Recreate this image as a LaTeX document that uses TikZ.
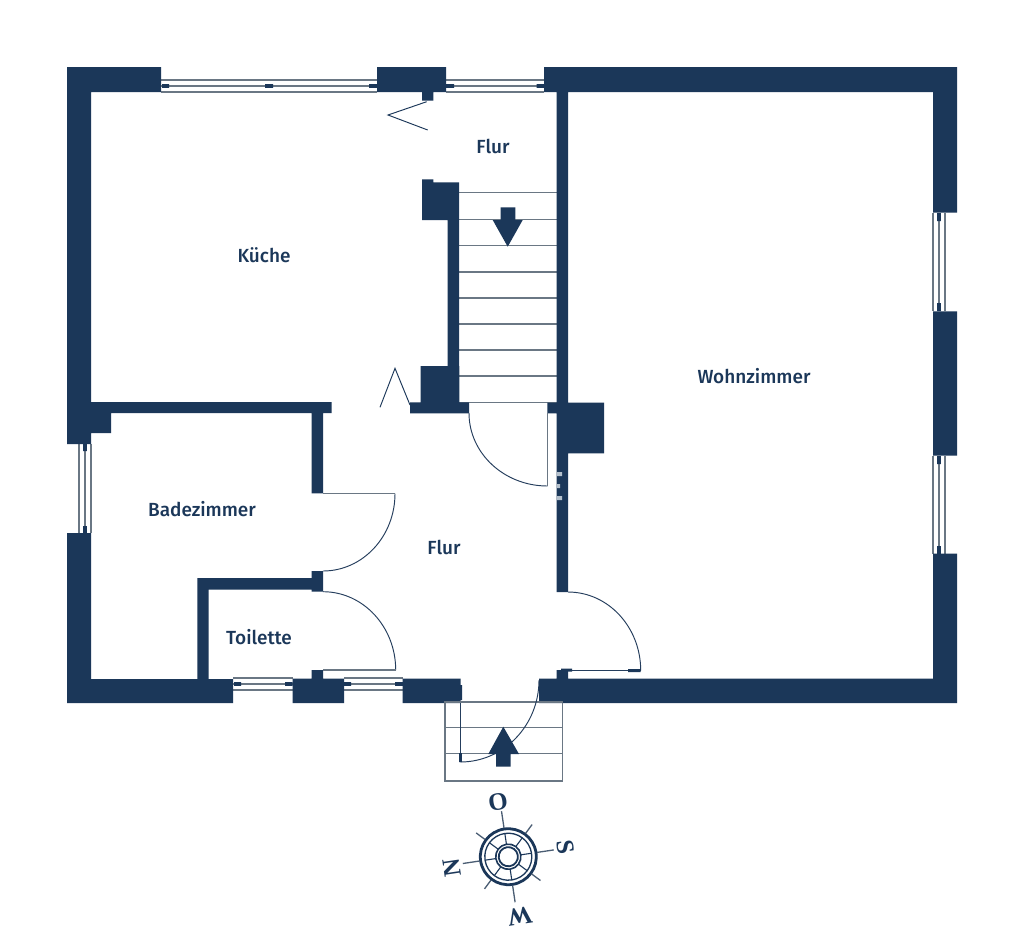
\documentclass[tikz,border=0pt]{standalone}
\usepackage{fontspec}
\setmainfont{Fira Sans}
\newfontfamily\labelfont{Fira Sans Medium}
\newfontfamily\compassfont{Liberation Serif}[BoldFont={Liberation Serif Bold}]
\definecolor{navy}{HTML}{1B3759}
\definecolor{linegray}{HTML}{6A7784}
\definecolor{ghost}{HTML}{B4C0CC}
\tikzset{
  wall/.style={fill=navy,draw=none},
  pane/.style={draw=linegray,line width=1.25pt},
  tick/.style={fill=navy,draw=none},
  swing/.style={draw=navy!90!gray,line width=0.95pt},
  leaf/.style={draw=linegray,line width=1.1pt},
  tread/.style={draw=linegray,line width=1.1pt},
  room/.style={font=\labelfont\fontsize{19}{22}\selectfont,text=navy,inner sep=0pt,anchor=center},
  compass letter/.style={font=\compassfont\bfseries\fontsize{25}{27}\selectfont,text=navy,inner sep=0pt,anchor=center}
}
\begin{document}
\begin{tikzpicture}[x=1pt,y=-1pt]
\useasboundingbox (0,0) rectangle (1024,940);
\fill[white] (0,0) rectangle (1024,940);
% treads and windows first, walls above
\foreach \ya in {192.3,219.7,245.7,272,298,324,350,376,402.5}
  \draw[tread] (459,\ya) -- (557,\ya);
% windows
\foreach \ya in {80,86,92}{
  \draw[pane] (161,\ya) -- (377,\ya);
  \draw[pane] (446,\ya) -- (544,\ya);
}
\foreach \ya in {678,684,690}{
  \draw[pane] (233,\ya) -- (292.5,\ya);
  \draw[pane] (344,\ya) -- (403,\ya);
}
\foreach \xa in {79,85,91}
  \draw[pane] (\xa,444) -- (\xa,533);
\foreach \xa in {933,939,945}{
  \draw[pane] (\xa,213) -- (\xa,311);
  \draw[pane] (\xa,456) -- (\xa,554);
}
% window ticks
\fill[tick] (162,84.2) rectangle (169,87.8) (265,84.2) rectangle (273,87.8) (369,84.2) rectangle (377,87.8)
  (446,84.2) rectangle (454,87.8) (536.5,84.2) rectangle (544,87.8)
  (234,682.2) rectangle (241,685.8) (285,682.2) rectangle (292.5,685.8)
  (344,682.2) rectangle (351,685.8) (395,682.2) rectangle (403,685.8)
  (83.2,444) rectangle (86.8,451) (83.2,526) rectangle (86.8,533)
  (937.2,213) rectangle (940.8,221) (937.2,303) rectangle (940.8,311)
  (937.2,456) rectangle (940.8,464) (937.2,546) rectangle (940.8,554);
% walls
\fill[wall]
  (67,67) rectangle (161,92)
  (67,67) rectangle (91,444)
  (91,402) rectangle (111,433)
  (91,402) rectangle (331.5,413.2)
  (311.7,402) rectangle (323,493.3)
  (67,533) rectangle (91,703)
  (67,679) rectangle (233,703)
  (197.3,578) rectangle (208.7,703)
  (197.3,578) rectangle (323,589.5)
  (311.7,571) rectangle (323,591.7)
  (311.7,670) rectangle (323,703)
  (292.5,678.5) rectangle (344,703)
  (402.7,678.5) rectangle (460.7,703)
  (539,678.5) rectangle (957,703)
  (556.7,670) rectangle (568,703)
  (377,67) rectangle (446,92)
  (422,67) rectangle (433.3,100.7)
  (544,67) rectangle (957,92)
  (556.7,67) rectangle (568,592)
  (933,67) rectangle (957,212.7)
  (933,311.3) rectangle (957,455.7)
  (933,553.7) rectangle (957,703)
  (422,179.3) rectangle (433.3,190)
  (422,182.3) rectangle (459,220)
  (447.7,182.3) rectangle (459,403)
  (420.7,366) rectangle (459.3,403)
  (410,402.3) rectangle (469,413.3)
  (547.3,402.5) rectangle (568,413.3)
  (556.7,402.7) rectangle (604,453.3);
% residual marks in wall
\fill[ghost] (557,472) rectangle (562,476) (557,484) rectangle (560,488) (557,496) rectangle (562,500);
% fold doors
\draw[swing,draw=navy] (426.7,101.7) -- (388,115) -- (427.7,130);
\draw[swing,draw=navy] (380,407.3) -- (395,368.3) -- (410,405);
% swing doors
\draw[swing] (395,493.5) .. controls (395,536.3) and (362.8,571) .. (323,571);
\draw[leaf] (323,493.5) -- (395,493.5);
\draw[swing] (395.7,670) .. controls (395.7,626.8) and (363.2,591.7) .. (323,591.7);
\draw[leaf] (323,670) -- (395.7,670);
\draw[swing] (640.7,670.5) .. controls (640.7,627.1) and (608.2,592) .. (568,592);
\draw[swing] (568,670.5) -- (640.7,670.5);
\fill[tick] (628,669) rectangle (640.5,672) (561,668.5) rectangle (572,671.5);
\draw[swing] (547.5,486) .. controls (504.1,486) and (469,453.3) .. (469,413);
\draw[leaf] (547.5,413) -- (547.5,486);
% entry stairs
\draw[tread] (445,702) rectangle (562.3,781);
\draw[tread] (445,727.7) -- (562.3,727.7);
\draw[tread] (445,753.7) -- (562.3,753.7);
% entry door
\draw[swing] (460.3,762) .. controls (503.8,762) and (539,725.3) .. (539,680);
\draw[swing] (460.3,703) -- (460.3,762);
\fill[tick] (459,753) rectangle (461.8,762) (459.5,685) rectangle (462,700);
% stair arrows
\fill[navy] (500.7,207.3) -- (515.3,207.3) -- (515.3,220) -- (522.7,220) -- (507.7,246.7) -- (492.7,220) -- (500.7,220) -- cycle;
\fill[navy] (503.3,726.7) -- (519,754) -- (510.7,754) -- (510.7,766.7) -- (496,766.7) -- (496,754) -- (488.3,754) -- cycle;
% labels
\node[room] (kueche) at (264,255.5) {Küche};
\node[room] (flurtop) at (493,146.5) {Flur};
\node[room] (wohn) at (754,376.5) {Wohnzimmer};
\node[room] (bad) at (202,509.5) {Badezimmer};
\node[room] (flurmid) at (444,547.5) {Flur};
\node[room] (toilette) at (259,637) {Toilette};
% compass
\begin{scope}[shift={(508.3,856.7)},x=1pt,y=1pt,rotate=8.5]
  \draw[navy,line width=2.8pt] (0,0) circle (28);
  \draw[navy,line width=1.3pt] (0,0) circle (23.5);
  \draw[navy,line width=1.6pt] (0,0) circle (12.6);
  \draw[navy,line width=1.8pt] (0,0) circle (9.6);
  \foreach \a in {0,45,...,315}
    \draw[navy,line width=1.1pt] (\a:12.6) -- (\a:23.5);
  \foreach \a in {0,90,180,270}
    \draw[linegray!60!navy,line width=1.3pt] (\a:29) -- (\a:46);
  \foreach \a in {45,135,225,315}
    \draw[linegray!60!navy,line width=1.3pt] (\a:29) -- (\a:40);
\end{scope}
\node[compass letter,rotate=8.5] (north) at (498,802) {O};
\node[compass letter,rotate=-81.5] (east) at (566,846.7) {S};
\node[compass letter,rotate=188.5] (south) at (520,916.7) {W};
\node[compass letter,rotate=98.5] (west) at (451.7,868) {N};
\end{tikzpicture}
\end{document}
